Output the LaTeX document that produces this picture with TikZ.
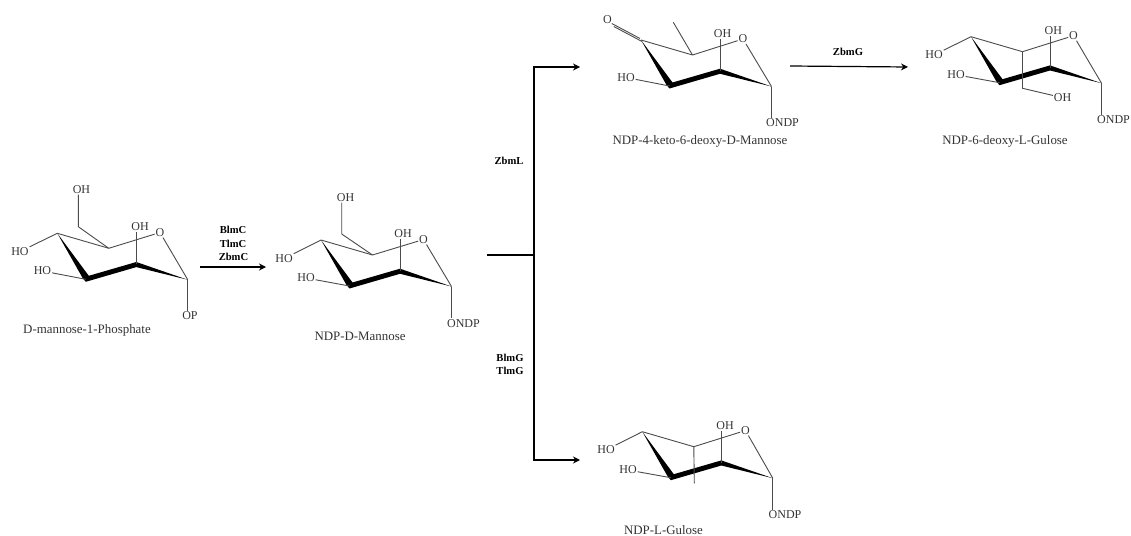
\documentclass[tikz,border=0pt]{standalone}
\usepackage{fontspec}
\setmainfont{Liberation Serif}
\usetikzlibrary{arrows.meta}
\definecolor{bondgrey}{gray}{0.3}
\definecolor{labelgrey}{gray}{0.2}
\tikzset{
  bond/.style={draw=bondgrey,line width=0.9pt},
  atomlabel/.style={inner sep=0.8pt,text=labelgrey,font=\fontsize{12}{13}\selectfont},
  caption/.style={inner sep=0pt,text=labelgrey,font=\fontsize{12.9}{14}\selectfont},
  enzyme/.style={inner sep=0pt,text=black,font=\fontsize{10.6}{11}\selectfont\bfseries},
  reaction/.style={draw=black,line width=1.2pt},
  reactionarrow/.style={reaction,-{Stealth[length=7pt,width=7pt]}}
}
% #1 prefix, #2 x, #3 y of the upper-left ring carbon
\newcommand{\chairring}[3]{%
  \begin{scope}[shift={(#2,#3)}]
    \coordinate (#1a) at (0,0);
    \coordinate (#1b) at (28.5,46);
    \coordinate (#1c) at (79,31);
    \coordinate (#1d) at (130.5,46.5);
    \coordinate (#1e) at (51.5,15);
    \fill[black] (0,0) -- (25.5,45) -- (28.5,48.5) -- (79,33.8) -- (130.5,46.5)
      -- (79,28.7) -- (31.5,42.5) -- cycle;
    \draw[bond] (#1a) -- (#1e);
  \end{scope}%
}
\begin{document}
\begin{tikzpicture}[x=1pt,y=-1pt]
\clip (0,0) rectangle (1131,535);
\useasboundingbox (0,0) rectangle (1131,535);
\fill[white] (0,0) rectangle (1131,535);

% --- D-mannose-1-phosphate
\chairring{p}{57.3}{233.3}
\node[atomlabel] (pO) at (160,232.5) {O};
\node[atomlabel] (pOH) at (140,227) {OH};
\node[atomlabel] (pHOa) at (20,251.5) {HO};
\node[atomlabel] (pHOb) at (42.5,271) {HO};
\node[atomlabel] (pOP) at (190,316) {OP};
\node[atomlabel] (pOHt) at (81.5,189.5) {OH};
\coordinate (pCH) at (78.3,226.7);
\draw[bond] (pe) -- (pO);
\draw[bond] (pO) -- (pd);
\draw[bond] (pc) -- (pc |- pOH.south);
\draw[bond] (pa) -- (pHOa);
\draw[bond] (pb) -- (pHOb);
\draw[bond] (pd) -- (pd |- pOP.north);
\draw[bond] (pe) -- (pCH) -- (pCH |- pOHt.south);
\node[caption] (pcap) at (87,330) {D-mannose-1-Phosphate};

% --- NDP-D-Mannose
\chairring{m}{321}{240}
\node[atomlabel] (mO) at (423.5,239.5) {O};
\node[atomlabel] (mOH) at (403,234) {OH};
\node[atomlabel] (mHOa) at (284,258.5) {HO};
\node[atomlabel] (mHOb) at (306,278) {HO};
\node[atomlabel] (mOND) at (463.5,323.5) {ONDP};
\node[atomlabel] (mOHt) at (345.5,197.5) {OH};
\coordinate (mCH) at (341.7,234);
\draw[bond] (me) -- (mO);
\draw[bond] (mO) -- (md);
\draw[bond] (mc) -- (mc |- mOH.south);
\draw[bond] (ma) -- (mHOa);
\draw[bond] (mb) -- (mHOb);
\draw[bond] (md) -- (md |- mOND.north);
\draw[bond] (me) -- (mCH) -- (mCH |- mOHt.south);
\node[caption] (mcap) at (360,336) {NDP-D-Mannose};

% --- NDP-4-keto-6-deoxy-D-Mannose
\chairring{k}{641}{40}
\node[atomlabel] (kO) at (743,39) {O};
\node[atomlabel] (kOH) at (722.5,33.5) {OH};
\node[atomlabel] (kOk) at (607.5,20) {O};
\node[atomlabel] (kHO) at (626,77.5) {HO};
\node[atomlabel] (kOND) at (782.5,122.7) {ONDP};
\coordinate (kMe) at (673.3,22.3);
\draw[bond] (ke) -- (kO);
\draw[bond] (kO) -- (kd);
\draw[bond] (kc) -- (kc |- kOH.south);
\draw[bond] (kb) -- (kHO);
\draw[bond] (kd) -- (kd |- kOND.north);
\draw[bond] (ke) -- (kMe);
\draw[bond] ([yshift=-1.5pt,xshift=1pt]ka) -- ([yshift=-1.5pt,xshift=1pt]kOk.south east);
\draw[bond] ([yshift=1.5pt,xshift=-1pt]ka) -- ([yshift=1.5pt,xshift=-1pt]kOk.south east);
\node[caption] (kcap) at (700,141) {NDP-4-keto-6-deoxy-D-Mannose};

% --- NDP-6-deoxy-L-Gulose
\chairring{g}{971}{36.7}
\node[atomlabel] (gO) at (1073.5,35.7) {O};
\node[atomlabel] (gOH) at (1053.3,30.7) {OH};
\node[atomlabel] (gHOa) at (934,55) {HO};
\node[atomlabel] (gHOb) at (956,74.7) {HO};
\node[atomlabel] (gOHb) at (1062.5,97.7) {OH};
\node[atomlabel] (gOND) at (1113.5,120) {ONDP};
\coordinate (gCH) at (1022.5,88.3);
\draw[bond] (ge) -- (gO);
\draw[bond] (gO) -- (gd);
\draw[bond] (gc) -- (gc |- gOH.south);
\draw[bond] (ga) -- (gHOa);
\draw[bond] (gb) -- (gHOb);
\draw[bond] (gd) -- (gd |- gOND.north);
\draw[bond] (ge) -- (gCH) -- (gOHb);
\node[caption] (gcap) at (1005,141) {NDP-6-deoxy-L-Gulose};

% --- NDP-L-Gulose
\chairring{l}{642.3}{431.7}
\node[atomlabel] (lO) at (745.5,430.5) {O};
\node[atomlabel] (lOH) at (725,425.5) {OH};
\node[atomlabel] (lHOa) at (606,450) {HO};
\node[atomlabel] (lHOb) at (628,470) {HO};
\node[atomlabel] (lOND) at (785,515) {ONDP};
\coordinate (lMe) at (694.3,483.3);
\draw[bond] (le) -- (lO);
\draw[bond] (lO) -- (ld);
\draw[bond] (lc) -- (lc |- lOH.south);
\draw[bond] (la) -- (lHOa);
\draw[bond] (lb) -- (lHOb);
\draw[bond] (ld) -- (ld |- lOND.north);
\draw[bond] (le) -- (lMe);
\node[caption,anchor=base] (lcap) at (663.5,534) {NDP-L-Gulose};

% --- reaction arrows
\coordinate (r1s) at (200,267);
\coordinate (r1e) at (266,267);
\draw[reactionarrow] (r1s) -- (r1e);
\node[enzyme] (e1) at (233,230) {BlmC};
\node[enzyme] (e2) at (233,243.5) {TlmC};
\node[enzyme] (e3) at (233.5,257) {ZbmC};

\coordinate (js) at (487,255);
\coordinate (jm) at (534,255);
\coordinate (jt) at (534,67);
\coordinate (jb) at (534,460);
\coordinate (jte) at (580,67);
\coordinate (jbe) at (580,460);
\draw[reaction] (js) -- (jm);
\draw[reactionarrow] (jm) -- (jt) -- (jte);
\draw[reactionarrow] (jm) -- (jb) -- (jbe);
\node[enzyme] (e4) at (509,161) {ZbmL};
\node[enzyme] (e5) at (510,358) {BlmG};
\node[enzyme] (e6) at (510,371) {TlmG};

\coordinate (r2s) at (790,66);
\coordinate (r2e) at (908,67);
\draw[reactionarrow] (r2s) -- (r2e);
\node[enzyme] (e7) at (848,52) {ZbmG};
\end{tikzpicture}
\end{document}
